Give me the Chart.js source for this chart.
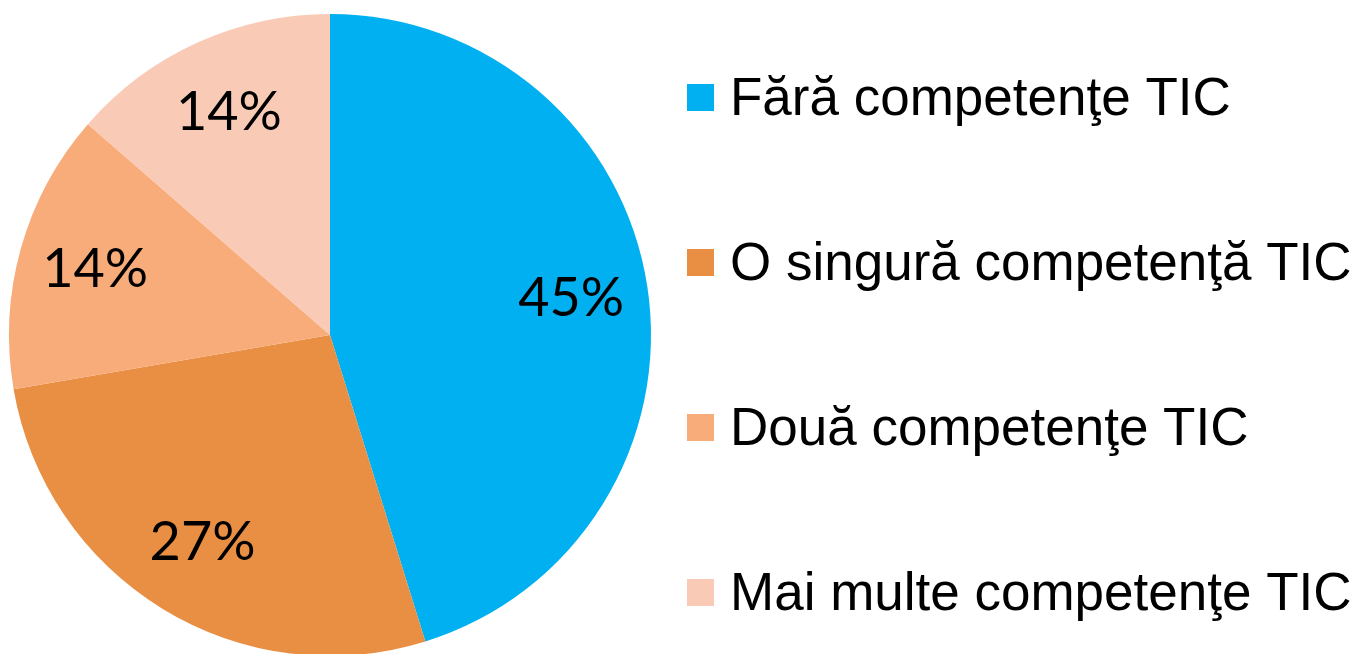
<!DOCTYPE html>
<html>
<head>
<meta charset="utf-8">
<script src="https://cdn.jsdelivr.net/npm/chart.js@4"></script>
<style>
  html, body { margin: 0; padding: 0; background: #fff; overflow: hidden; }
  #wrap { position: relative; width: 1357px; height: 672px; }
</style>
</head>
<body>
<div id="wrap"><canvas id="myChart" width="1357" height="672"></canvas></div>
<script>
// chart data
var categories = ['Fără competenţe TIC', 'O singură competenţă TIC', 'Două competenţe TIC', 'Mai multe competenţe TIC'];
var shares = [45.2, 27.1, 14.1, 13.6];
var colors = ['#00B0F0', '#E98F43', '#F8AC7A', '#F9CBB6'];

// percent labels inside the slices
const sliceLabels = {
  id: 'sliceLabels',
  afterDatasetsDraw(chart) {
    const ctx = chart.ctx;
    const meta = chart.getDatasetMeta(0);
    const total = shares.reduce((a, b) => a + b, 0);
    ctx.save();
    ctx.font = '54px Lato';
    ctx.fillStyle = '#000';
    ctx.textAlign = 'center';
    ctx.textBaseline = 'middle';
    meta.data.forEach((arc, i) => {
      const p = arc.getProps(['x', 'y', 'startAngle', 'endAngle', 'outerRadius']);
      const mid = (p.startAngle + p.endAngle) / 2;
      const r = p.outerRadius * 0.76;
      const txt = Math.round(shares[i] / total * 100) + '%';
      ctx.fillText(txt, p.x + Math.cos(mid) * r, p.y + Math.sin(mid) * r);
    });
    ctx.restore();
  }
};

// legend on the right, square + text
const sideLegend = {
  id: 'sideLegend',
  afterDraw(chart) {
    const ctx = chart.ctx;
    ctx.save();
    ctx.font = '53px "Liberation Sans", Arial, sans-serif';
    ctx.textBaseline = 'alphabetic';
    ctx.textAlign = 'left';
    categories.forEach((c, i) => {
      const y = 115 + i * 165;
      ctx.fillStyle = colors[i];
      ctx.fillRect(687, y - 31, 27, 27);
      ctx.fillStyle = '#000';
      ctx.fillText(c, 730, y);
    });
    ctx.restore();
  }
};

var ctx = document.getElementById('myChart').getContext('2d');
var myChart = new Chart(ctx, {
  type: 'pie',
  data: {
    labels: categories,
    datasets: [{
      data: shares,
      backgroundColor: colors,
      borderWidth: 0
    }]
  },
  plugins: [sliceLabels, sideLegend],
  options: {
    responsive: false,
    animation: false,
    devicePixelRatio: 1,
    layout: { padding: { left: 9, top: 14, right: 706, bottom: 16 } },
    plugins: {
      legend: { display: false },
      tooltip: { enabled: false }
    }
  }
});
</script>
</body>
</html>
